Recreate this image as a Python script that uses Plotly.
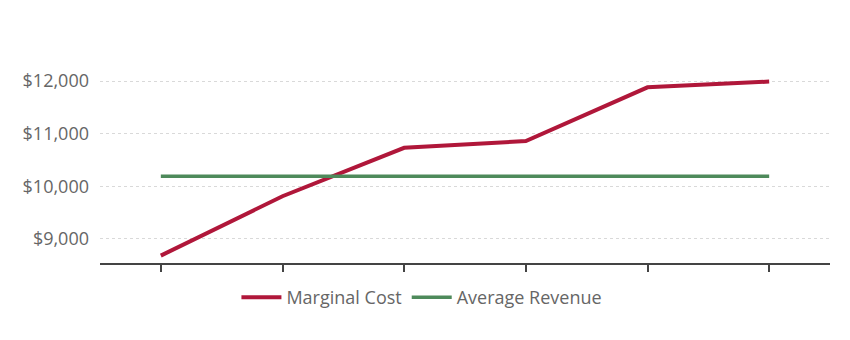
import plotly.graph_objects as go

# Output levels (six periods) and the two cost/revenue series
periods = [1, 2, 3, 4, 5, 6]
marginal_cost = [8680, 9810, 10730, 10860, 11880, 11990]
average_revenue = [10190, 10190, 10190, 10190, 10190, 10190]
y_ticks = [9000, 10000, 11000, 12000]
y_tick_labels = ["$9,000", "$10,000", "$11,000", "$12,000"]

fig = go.Figure()
fig.add_trace(go.Scatter(
    x=periods, y=marginal_cost, mode="lines", name="Marginal Cost",
    line=dict(color="#b0173a", width=4),
))
fig.add_trace(go.Scatter(
    x=periods, y=average_revenue, mode="lines", name="Average Revenue",
    line=dict(color="#4e8a5b", width=3.5),
))

fig.update_layout(
    width=850, height=340,
    margin=dict(l=100, r=20, t=60, b=77),
    paper_bgcolor="white", plot_bgcolor="white",
    font=dict(family="Open Sans, Lato, sans-serif", color="#666666"),
    showlegend=True,
    legend=dict(
        orientation="h", x=0.441, xanchor="center", y=-0.17, yanchor="middle",
        font=dict(size=18, color="#666666"), itemwidth=40,
    ),
)
fig.update_xaxes(
    range=[0.5, 6.5], tickvals=periods, showticklabels=False,
    showgrid=False, zeroline=False,
    showline=True, linecolor="#444444", linewidth=2,
    ticks="outside", ticklen=7, tickwidth=2, tickcolor="#444444",
)
fig.update_yaxes(
    range=[8540, 12400], tickvals=y_ticks, ticktext=y_tick_labels,
    showgrid=True, gridcolor="#d9d9d9", griddash="dot", gridwidth=1,
    zeroline=False, showline=False, ticks="", ticklabelstandoff=10,
    tickfont=dict(size=18, color="#666666"),
)

fig.write_html("out.html")
